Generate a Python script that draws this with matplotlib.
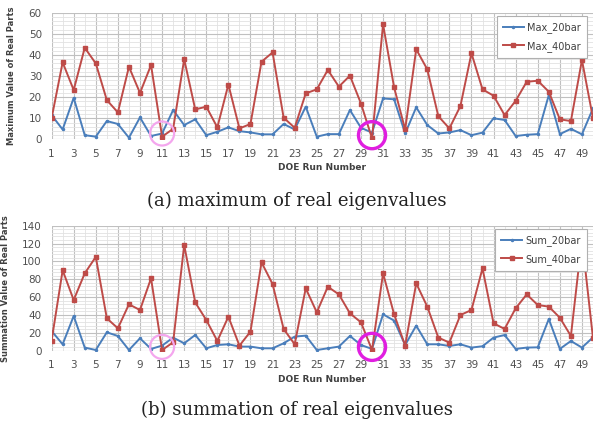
import matplotlib.pyplot as plt
import numpy as np

# DOE runs 1..50
runs = np.arange(1, 51)

max_20bar = [11.5, 4.7, 19.7, 2.0, 1.3, 8.7, 7.3, 0.8, 10.4, 1.6,
             2.8, 13.9, 6.8, 9.5, 2.0, 3.6, 5.7, 3.9, 3.3, 2.4,
             2.4, 7.3, 4.7, 15.5, 1.3, 2.5, 2.5, 13.9, 5.5, 3.2,
             19.4, 19.0, 2.8, 15.2, 6.8, 2.8, 3.3, 4.4, 2.0, 3.2,
             10.0, 9.2, 1.6, 2.2, 2.5, 21.0, 2.5, 5.0, 2.4, 14.7]
max_40bar = [10.0, 36.5, 23.4, 43.4, 36.0, 18.6, 12.8, 34.4, 22.0, 35.2,
             1.3, 5.0, 38.0, 14.2, 15.5, 5.7, 26.0, 5.2, 7.3, 36.8,
             41.2, 10.3, 5.5, 21.8, 23.7, 32.9, 25.0, 30.2, 17.0, 0.5,
             54.5, 24.6, 4.7, 42.7, 33.2, 11.0, 5.2, 15.8, 40.8, 23.7,
             20.7, 11.5, 18.3, 27.3, 27.8, 22.6, 9.5, 8.7, 37.6, 10.0]

sum_20bar = [22.0, 7.1, 38.8, 3.4, 0.7, 20.5, 16.4, 0.7, 13.8, 1.9,
             5.6, 14.6, 8.2, 17.5, 2.6, 6.3, 7.1, 4.5, 4.5, 2.6,
             2.6, 8.2, 15.7, 16.8, 0.7, 2.6, 4.5, 16.4, 6.3, 1.9,
             40.7, 33.6, 6.3, 28.0, 7.1, 7.1, 5.2, 7.1, 3.4, 4.9,
             14.6, 17.5, 1.9, 3.4, 3.7, 35.4, 1.9, 10.8, 3.4, 14.9]
sum_40bar = [11.2, 90.0, 56.7, 86.6, 105.0, 36.2, 25.0, 51.9, 45.5, 81.0,
             0.7, 9.3, 118.3, 54.0, 34.3, 10.8, 38.0, 5.6, 21.3, 98.9,
             74.6, 24.3, 7.1, 69.8, 42.9, 71.6, 63.0, 41.8, 31.7, 0.7,
             86.6, 40.7, 5.6, 75.4, 49.3, 14.6, 9.0, 39.9, 45.5, 92.2,
             30.6, 24.3, 47.4, 63.0, 51.1, 49.3, 36.9, 16.4, 125.0, 13.8]

blue = '#4a7ebb'
red = '#be4b48'
tick_color = '#505050'


def draw_panel(ax, s20, s40, labels, ylabel, ymax, major, minor):
    ax.plot(runs, s20, color=blue, lw=1.4, marker='o', ms=1.5, label=labels[0], zorder=3)
    ax.plot(runs, s40, color=red, lw=1.4, marker='s', ms=2.5, label=labels[1], zorder=3)

    ax.set_xlim(1, 50)
    ax.set_ylim(0, ymax)
    ax.set_xticks(runs, minor=True)
    ax.set_xticks(runs[::2])
    ax.set_yticks(np.arange(0, ymax + 1, major))
    ax.set_yticks(np.arange(0, ymax + 1, minor), minor=True)
    ax.grid(True, which='major', color='#c0c0c0', lw=0.8)
    ax.grid(True, which='minor', color='#e2e2e2', lw=0.6)
    ax.set_axisbelow(True)
    for sp in ax.spines.values():
        sp.set_visible(False)
    ax.tick_params(which='both', length=0, labelsize=7.5, colors=tick_color, pad=7)
    ax.set_ylabel(ylabel, fontsize=6, fontweight='bold', color='#404040',
                  labelpad=9, fontfamily='Liberation Sans Narrow')
    ax.set_xlabel('DOE Run Number', fontsize=6.5, fontweight='bold', color='#404040',
                  labelpad=3)
    leg = ax.legend(loc='upper right', fontsize=7, frameon=True, fancybox=False,
                    framealpha=1, borderpad=0.6, labelspacing=0.8, handlelength=2.2,
                    handletextpad=0.3, bbox_to_anchor=(0.997, 1.01))
    leg.get_frame().set_edgecolor('#b0b0b0')
    leg.get_frame().set_linewidth(0.8)
    leg.set_zorder(5)
    for t in leg.get_texts():
        t.set_color('#404040')


fig = plt.figure(figsize=(5.93, 4.25), dpi=100)
ax1 = fig.add_axes([0.087, 0.672, 0.913, 0.298])
ax2 = fig.add_axes([0.087, 0.175, 0.913, 0.294])

draw_panel(ax1, max_20bar, max_40bar, ['Max_20bar', 'Max_40bar'],
           'Maximum Value of Real Parts', 60, 10, 2)
draw_panel(ax2, sum_20bar, sum_40bar, ['Sum_20bar', 'Sum_40bar'],
           'Summation Value of Real Parts', 140, 20, 4)

# highlighted runs 11 and 30
for ax, s40 in [(ax1, max_40bar), (ax2, sum_40bar)]:
    off = 1.5 * ax.get_ylim()[1] / 60
    ax.scatter([11], [s40[10] + off], s=300, facecolors='none',
               edgecolors='#f4a6ee', linewidths=1.6, zorder=4, clip_on=False)
    ax.scatter([30], [s40[29] + off], s=380, facecolors='none',
               edgecolors='#e01ee0', linewidths=2.4, zorder=4, clip_on=False)

fig.text(0.5, 0.528, '(a) maximum of real eigenvalues', ha='center', va='center',
         fontsize=13, fontfamily='DejaVu Serif', color='#222222')
fig.text(0.5, 0.036, '(b) summation of real eigenvalues', ha='center', va='center',
         fontsize=13, fontfamily='DejaVu Serif', color='#222222')

fig.savefig('out.png', dpi=100)
